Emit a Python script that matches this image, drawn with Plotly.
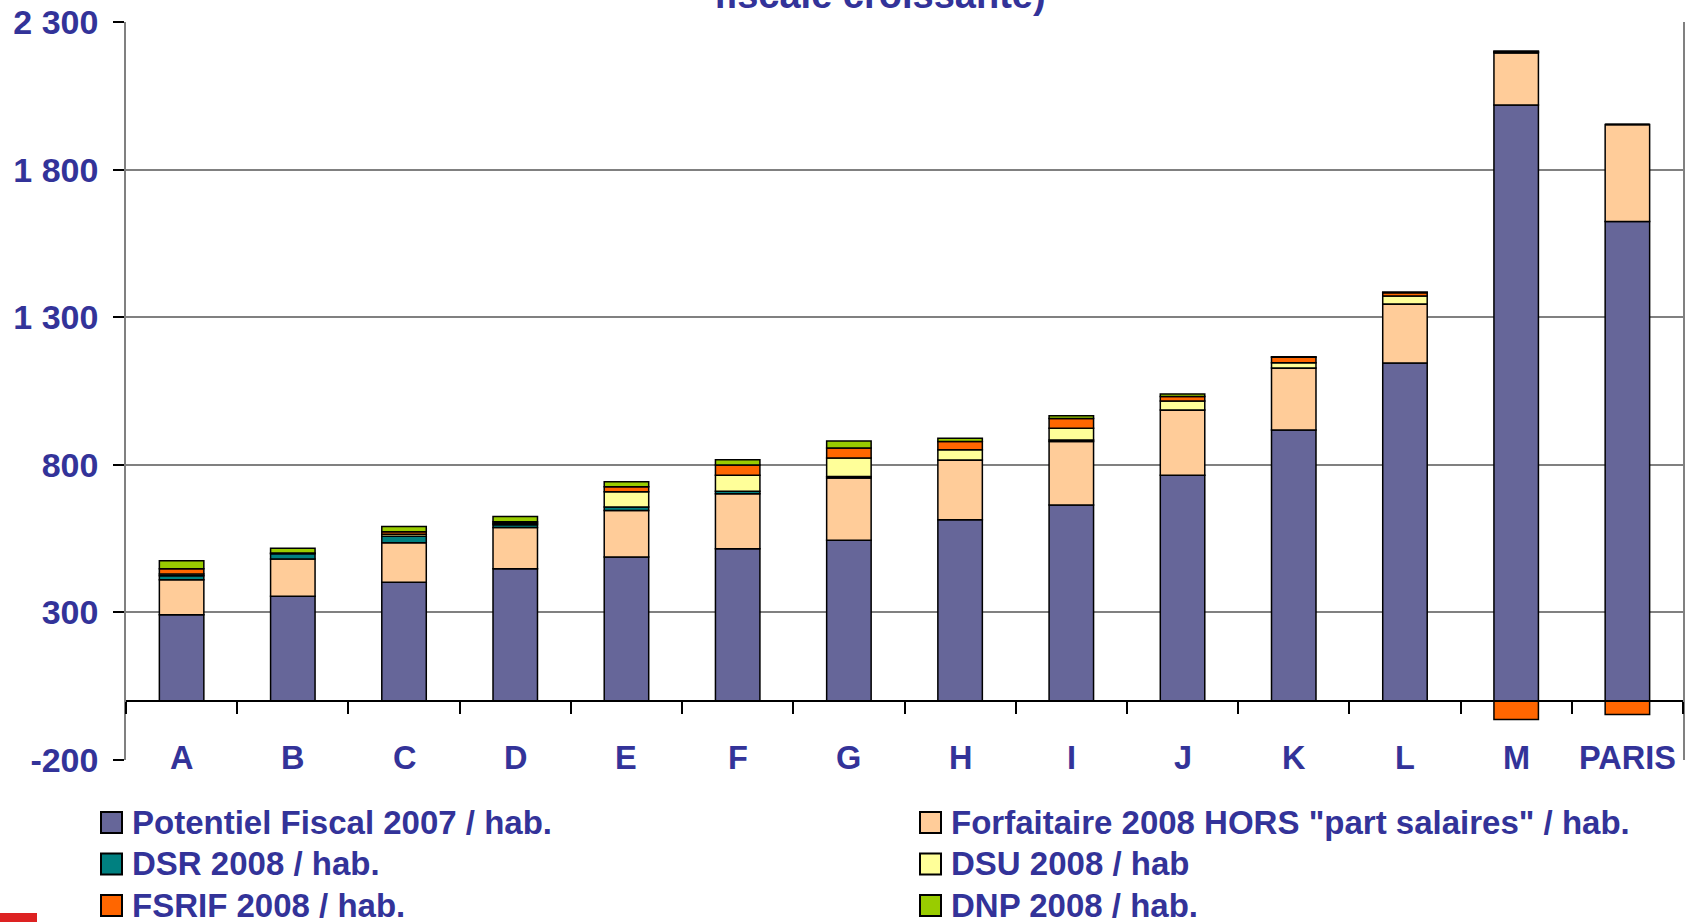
import plotly.graph_objects as go

# %% data (values per inhabitant)
communes = ["A", "B", "C", "D", "E", "F", "G", "H", "I", "J", "K", "L", "M", "PARIS"]
potentiel = [292, 355, 402, 448, 488, 516, 544, 614, 664, 765, 918, 1145, 2019, 1624]
forfaitaire = [119, 126, 134, 140, 157, 186, 211, 202, 215, 221, 210, 200, 177, 329]
dsr = [13, 18, 22, 9, 12, 8, 5, 0, 5, 0, 0, 0, 0, 0]
dsu = [6, 2, 7, 5, 52, 55, 63, 35, 40, 30, 18, 27, 3, 0]
fsrif = [18, 0, 8, 5, 17, 34, 34, 28, 33, 15, 18, 11, -63, -46]
dnp = [27, 16, 18, 18, 17, 18, 24, 11, 9, 9, 2, 2, 3, 0]

y_ticks = [-200, 300, 800, 1300, 1800, 2300]
y_labels = ["-200", "300", "800", "1 300", "1 800", "2 300"]

# %% styling
BLUE = "#333399"
FONT = "Liberation Sans, Arial, sans-serif"
W, H = 1686, 922
L, R, T, B = 126, 3, 22, 162
pw, ph = W - L - R, H - T - B


def px(x):
    return (x - L) / pw


def py(y):
    return (H - B - y) / ph


series = [
    ("Potentiel Fiscal 2007 / hab.", potentiel, "#666699"),
    ('Forfaitaire 2008 HORS "part salaires" / hab.', forfaitaire, "#FFCC99"),
    ("DSR 2008 / hab.", dsr, "#008080"),
    ("DSU 2008 / hab", dsu, "#FFFF99"),
    ("FSRIF 2008 / hab.", fsrif, "#FF6600"),
    ("DNP 2008 / hab.", dnp, "#99CC00"),
]

fig = go.Figure()
for name, vals, col in series:
    fig.add_trace(go.Bar(
        x=communes, y=vals, name=name, showlegend=False,
        marker=dict(color=col, line=dict(color="black", width=1.5)),
    ))

# category labels sit on the bottom gridline, like the original
for c in communes:
    fig.add_annotation(x=c, y=-200, xref="x", yref="y", text=c, showarrow=False,
                       yanchor="middle", yshift=2,
                       font=dict(family=FONT, size=32.5, color=BLUE, weight="bold"))

# title, mostly cut off at the top of the picture
fig.add_annotation(x=px(880), y=1, xref="paper", yref="paper", yanchor="bottom",
                   yshift=4, text="fiscale croissante)", showarrow=False,
                   font=dict(family=FONT, size=38, color=BLUE, weight="bold"))

# legend in two columns (Excel style, big squares)
leg_x = [100, 919]
leg_y = [822.5, 864, 905.5]
for i, (name, vals, col) in enumerate(series):
    cx = leg_x[i % 2]
    cy = leg_y[i // 2]
    fig.add_shape(type="rect", xref="paper", yref="paper", fillcolor=col,
                  line=dict(color="black", width=2),
                  x0=px(cx + 1), x1=px(cx + 22), y0=py(cy + 10.5), y1=py(cy - 10.5))
    fig.add_annotation(x=px(cx + 30), y=py(cy), xref="paper", yref="paper", xanchor="left",
                       yanchor="middle", text=name, showarrow=False,
                       font=dict(family=FONT, size=33, color=BLUE, weight="bold"))

# red corner mark from the slide
fig.add_shape(type="rect", xref="paper", yref="paper", line_width=0, fillcolor="#DD2222",
              x0=px(0), x1=px(37), y0=py(922), y1=py(913))

fig.update_layout(
    width=W, height=H,
    margin=dict(l=L, r=R, t=T, b=B, autoexpand=False),
    barmode="relative", bargap=0.6,
    plot_bgcolor="white", paper_bgcolor="white",
    xaxis=dict(anchor="free", position=200 / 2500, showline=True, linecolor="black", linewidth=1.5,
               ticks="outside", tickson="boundaries", ticklen=12, tickcolor="black", tickwidth=1.5,
               showticklabels=False, showgrid=False),
    yaxis=dict(range=[-200, 2300], tickvals=y_ticks, ticktext=y_labels,
               showgrid=True, gridcolor="#808080", gridwidth=2, zeroline=False,
               showline=True, mirror=True, linecolor="#808080", linewidth=1.5,
               ticks="outside", ticklen=11, tickcolor="black", tickwidth=1.5, ticklabelstandoff=8,
               tickfont=dict(family=FONT, size=34, color=BLUE, weight="bold")),
)

# drop the browser's default 8px body margin so the figure fills the window
fig.write_html("out.html", config={"displayModeBar": False},
               post_script="document.body.style.margin = '0';")
